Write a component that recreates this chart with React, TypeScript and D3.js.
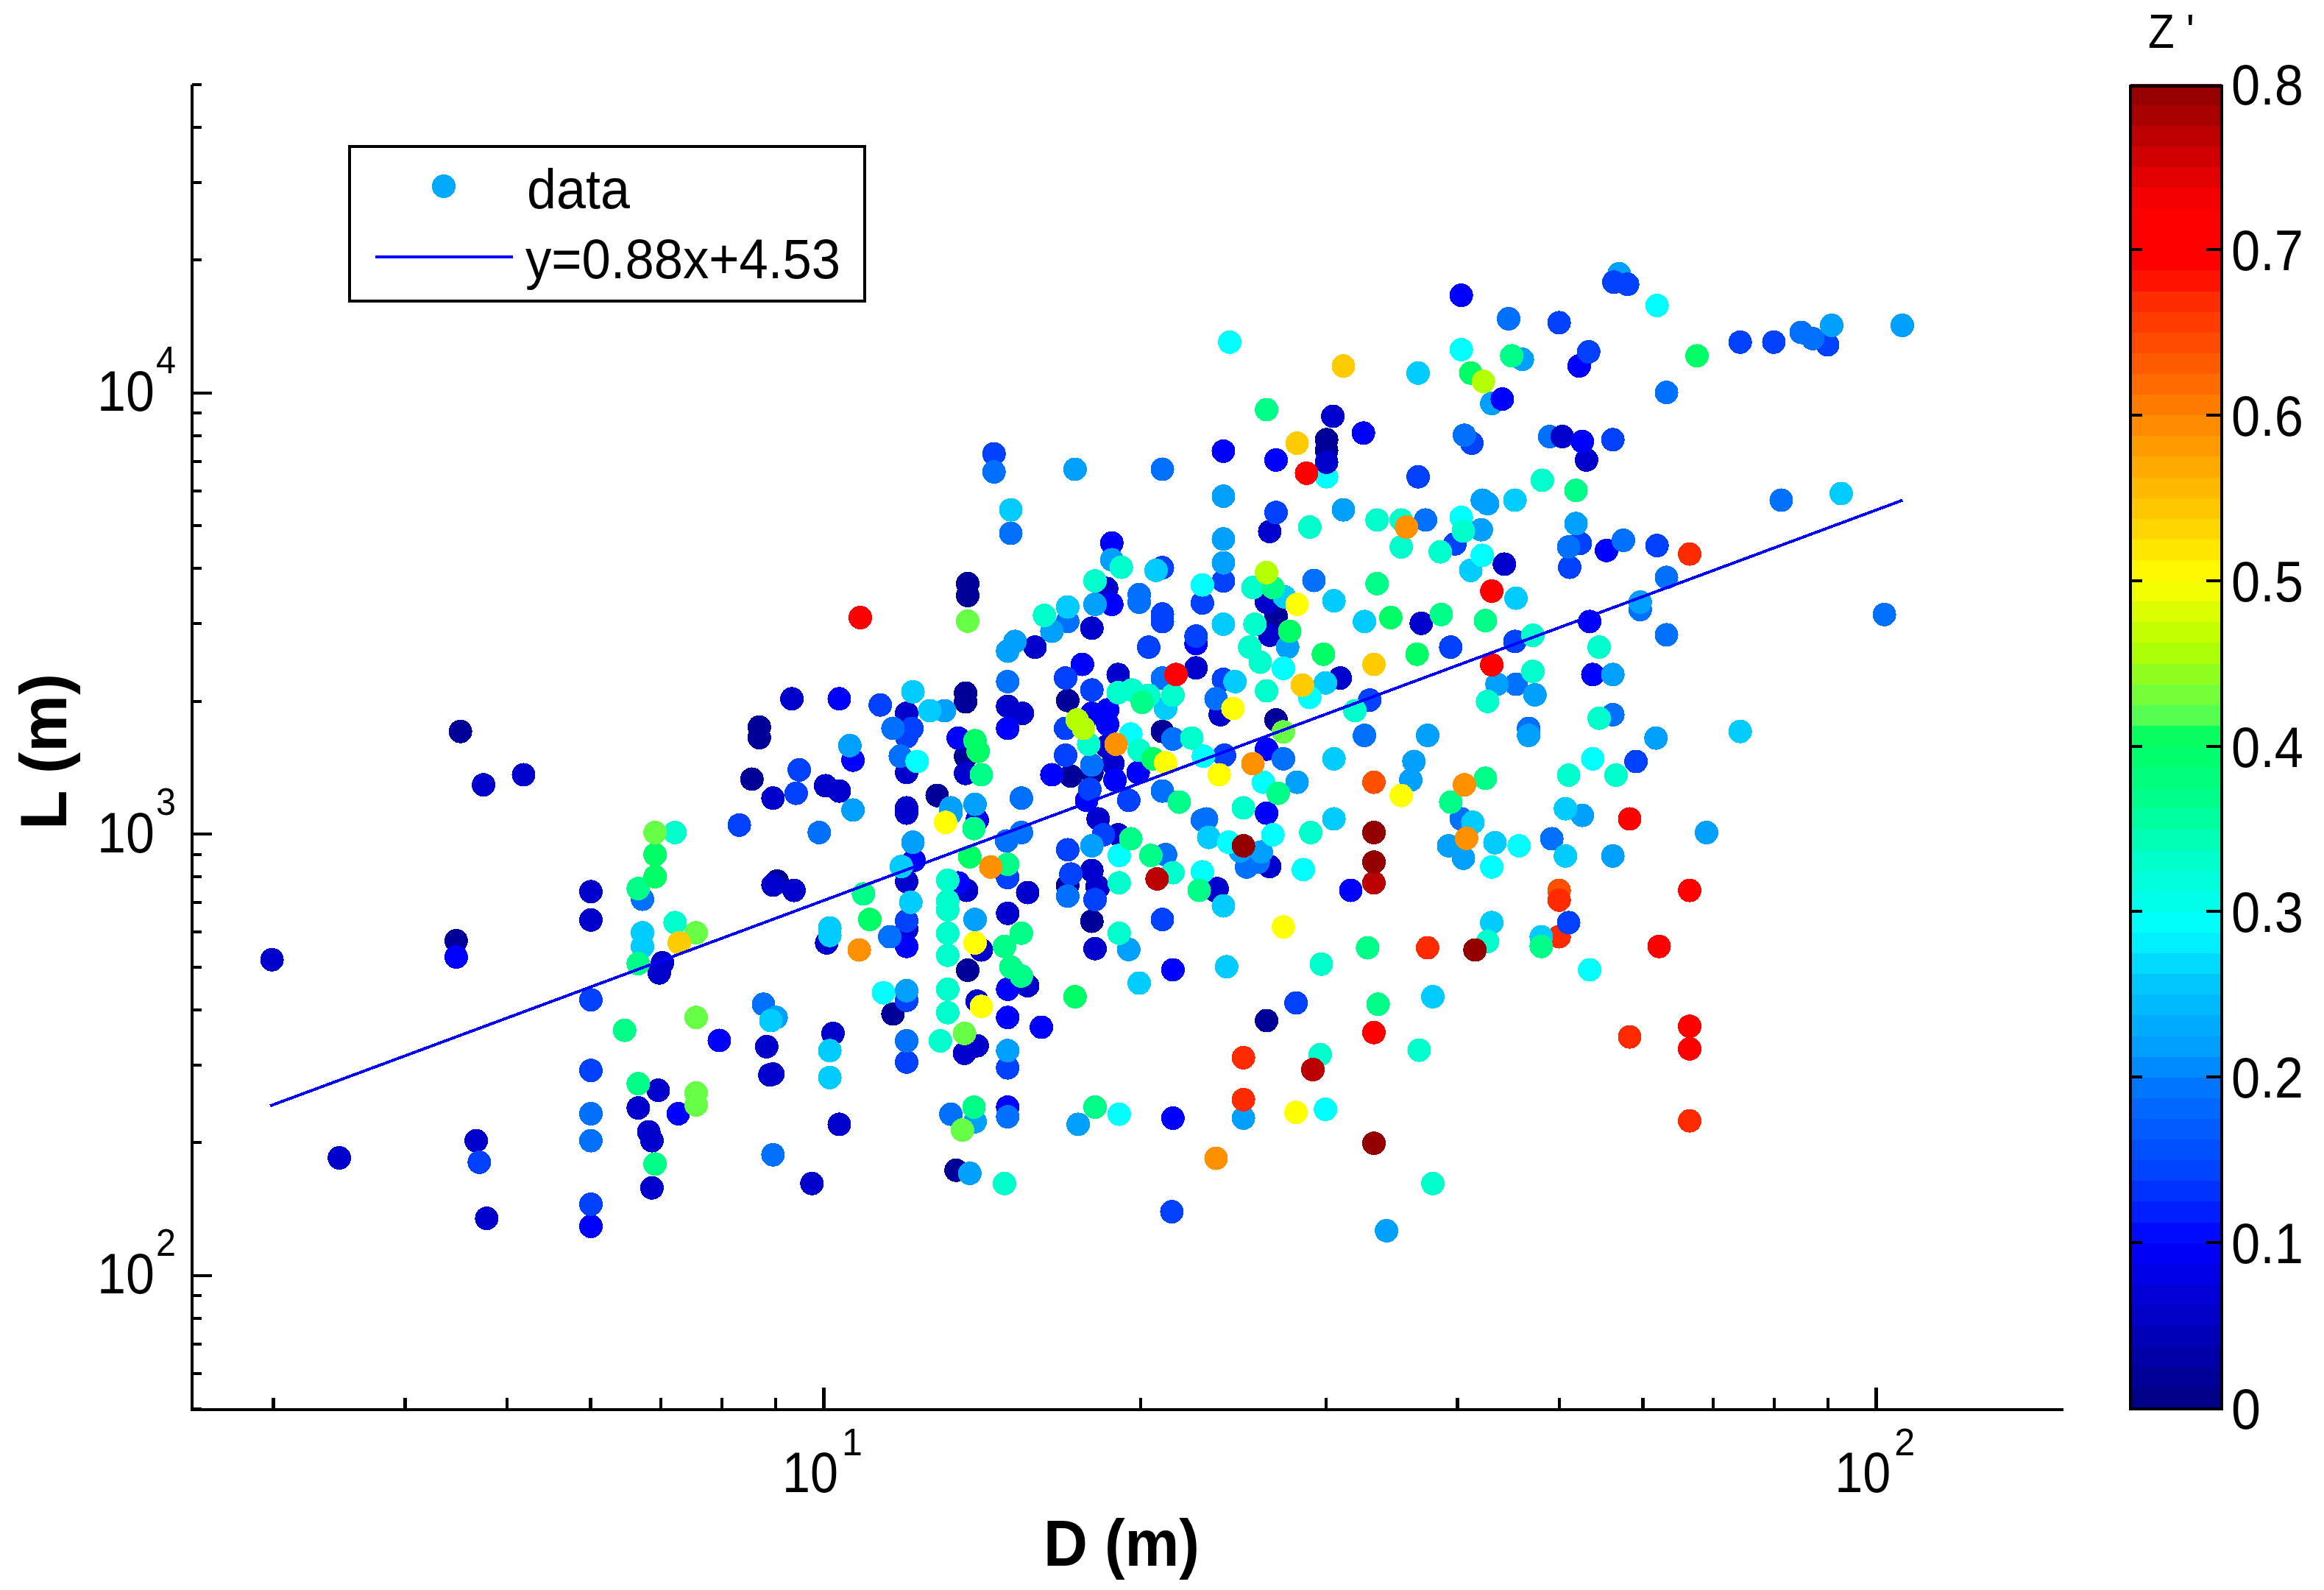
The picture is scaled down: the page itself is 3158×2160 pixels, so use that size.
import { useRef, useEffect } from "react";
import * as d3 from "d3";

// every point is [log10 D, log10 L], grouped by Z' value
const zNavy = [[.655,3.232],[.939,3.242],[.939,3.218],[.932,3.124],[.651,2.758],[1.137,3.567],[1.137,3.54],[1.135,3.319],[1.135,3.299],[1.232,3.302],[1.322,3.232],[1.108,3.087],[.956,2.893],[1.232,2.883],[1.255,2.802],[1.135,3.175],[1.235,3.131],[1.255,3.138],[1.43,3.258],[1.43,3.493],[1.478,3.893],[1.478,3.869],[1.137,2.691],[1.066,2.592],[1.26,2.881],[1.126,2.238],[1.421,2.577]];
const zDark = [[.677,3.111],[.715,3.134],[.476,2.715],[.779,2.869],[.779,2.805],[.847,2.708],[.844,2.685],[.946,2.518],[.843,2.419],[.824,2.379],[.834,2.325],[.837,2.305],[.837,2.198],[.949,2.454],[.67,2.305],[.54,2.266],[.68,2.129],[1.255,3.466],[1.269,3.556],[1.201,3.423],[1.28,3.361],[1.354,3.376],[.97,3.306],[1.175,3.289],[1.189,3.273],[1.079,3.273],[1.377,3.27],[1.269,3.198],[1.275,3.159],[1.079,3.139],[1.135,3.137],[1.002,3.109],[1.015,3.097],[.952,3.081],[1.079,3.059],[1.079,3.047],[1.261,3.034],[1.28,2.998],[1.255,2.917],[1.079,2.892],[.952,2.884],[.972,2.872],[1.136,2.872],[1.194,2.867],[1.261,2.878],[1.374,2.876],[1.175,2.82],[1.003,2.753],[1.079,2.784],[1.258,2.74],[1.15,2.737],[1.194,2.656],[1.146,2.621],[1.009,2.548],[1.134,2.503],[1.146,2.52],[.952,2.456],[1.015,2.342],[1.491,3.353],[1.424,3.45],[1.421,3.525],[1.568,3.477],[1.424,2.926],[1.372,2.872],[1.424,3.685],[1.484,3.946],[1.478,3.842],[1.725,3.847],[1.702,3.9],[1.647,3.611],[.989,2.208]];
const zBlue = [[.901,2.532],[.862,2.366],[.779,2.111],[.651,2.721],[1.38,3.867],[1.274,3.659],[1.274,3.52],[1.354,3.431],[1.246,3.384],[1.015,3.306],[1.27,3.281],[1.255,3.273],[1.27,3.248],[1.175,3.239],[1.128,3.217],[1.028,3.167],[1.217,3.134],[1.277,3.122],[1.299,3.139],[1.25,3.076],[1.146,3.031],[1.086,2.94],[1.128,2.889],[1.079,2.745],[1.332,2.692],[1.175,2.648],[1.175,2.584],[1.207,2.562],[1.175,2.381],[1.332,2.356],[1.421,3.192],[1.421,3.047],[1.501,2.872],[1.606,4.22],[1.718,4.06],[1.645,3.985],[1.513,3.908],[1.43,3.847],[1.721,3.889],[1.744,3.642],[1.728,3.481],[1.731,3.361]];
const zRoyal = [[.779,2.624],[.779,2.464],[.779,2.161],[.673,2.256],[.92,3.02],[1.162,3.861],[1.322,3.603],[1.38,3.573],[1.36,3.523],[1.322,3.498],[1.322,3.481],[1.354,3.448],[1.309,3.423],[1.23,3.353],[1.38,3.35],[1.054,3.292],[1.255,3.326],[1.084,3.239],[1.23,3.239],[1.23,3.178],[1.079,3.22],[1.381,3.178],[.977,3.145],[1.253,3.101],[.974,3.092],[1.29,3.076],[1.266,2.998],[1.232,2.964],[1.235,2.909],[1.175,2.901],[1.258,2.851],[1.079,2.803],[1.322,2.806],[1.079,2.623],[1.079,2.483],[1.175,2.47],[1.519,3.303],[1.596,3.423],[1.657,3.436],[1.751,4.25],[1.764,4.245],[1.699,4.158],[1.954,4.108],[1.903,4.114],[1.871,4.114],[1.727,4.092],[1.75,3.893],[1.616,3.885],[1.565,3.809],[1.43,3.728],[1.719,3.658],[1.792,3.653],[1.6,3.657],[1.709,3.604],[1.772,3.164],[1.708,2.799],[1.331,2.144],[1.449,2.617]];
const zAzure = [[.779,2.366],[.779,2.305],[.952,2.273],[.943,2.614],[.828,2.852],[1.162,3.82],[1.322,3.826],[1.178,3.681],[1.3,3.542],[1.3,3.525],[1.232,3.481],[1.322,3.353],[1.175,3.345],[1.373,3.306],[1.332,3.215],[1.066,3.239],[1.073,3.176],[1.255,3.156],[1.188,3.081],[1.322,3.097],[.996,3.003],[1.188,3.003],[1.174,2.984],[1.36,3.031],[1.325,2.953],[1.413,2.936],[1.232,2.859],[1.063,2.767],[1.079,2.531],[1.121,2.365],[1.175,2.359],[1.437,3.17],[1.364,3.034],[1.606,3.034],[1.402,2.925],[1.514,3.223],[1.67,3.239],[1.658,3.339],[1.651,4.167],[1.929,4.136],[1.94,4.122],[1.801,4],[1.609,3.903],[1.572,3.711],[1.91,3.756],[1.76,3.665],[1.708,3.65],[1.466,3.574],[1.801,3.581],[1.776,3.508],[2.008,3.497],[1.801,3.451],[1.75,3.27],[1.692,2.989]];
const zSky = [[1.38,3.765],[1.274,3.621],[1.38,3.668],[1.38,3.614],[1.258,3.52],[1.217,3.459],[1.182,3.436],[1.175,3.414],[1.115,3.279],[1.025,3.2],[1.121,3.059],[1.144,3.067],[1.028,3.054],[1.121,3.047],[1.085,2.981],[1.255,2.973],[1.144,2.806],[1.29,2.738],[1.079,2.645],[.955,2.584],[1.175,2.509],[1.144,2.348],[1.242,2.342],[1.399,2.356],[1.139,2.231],[1.441,3.423],[1.64,3.339],[1.676,3.315],[1.574,3.223],[1.67,3.223],[1.561,3.164],[1.558,3.122],[1.45,3.117],[1.396,2.961],[1.416,2.959],[1.594,2.973],[1.608,2.945],[1.721,3.042],[1.776,3.525],[1.75,3.361],[1.791,3.217],[1.839,3.003],[1.75,2.95],[2.025,4.152],[1.958,4.152],[1.626,3.756],[1.631,3.748],[1.494,3.734],[1.715,3.703],[1.625,3.689],[1.535,2.101]];
const zCapri = [[1.178,3.734],[1.316,3.597],[1.232,3.514],[1.38,3.475],[1.085,3.322],[1.391,3.345],[1.101,3.279],[1.325,3.284],[1.366,2.992],[1.074,2.926],[1.083,2.845],[1.38,2.837],[1.006,2.787],[1.006,2.77],[1.383,2.699],[1.3,2.662],[1.006,2.509],[1.006,2.448],[.828,2.776],[.828,2.745],[.95,2.577],[1.485,3.528],[1.658,3.534],[1.514,3.481],[1.477,3.342],[1.485,3.17],[1.485,3.034],[1.438,3.537],[1.565,4.044],[1.615,3.597],[1.657,3.756],[1.967,3.771],[1.871,3.232],[1.705,3.057],[1.617,3.026],[1.638,2.98],[1.705,2.95],[1.635,2.799],[1.682,2.767],[1.579,2.631]];
const zCyan = [[1.36,3.564],[1.292,3.226],[1.361,3.176],[1.089,3.164],[1.385,2.981],[1.281,2.951],[1.36,2.914],[1.057,2.64],[1.281,2.365],[1.386,4.114],[1.606,4.097],[1.792,4.197],[1.437,3.375],[1.462,3.309],[1.418,3.117],[1.606,3.717],[1.626,3.631],[1.427,2.998],[1.456,2.919],[1.661,2.973],[1.635,2.925],[1.731,3.17],[1.728,2.692],[1.477,2.376]];
const zTeal = [[.859,3.003],[.859,2.799],[1.283,3.604],[1.258,3.573],[1.21,3.495],[1.28,3.32],[1.293,3.326],[1.309,3.314],[1.332,3.314],[1.35,3.217],[1.252,3.203],[1.3,3.189],[1.399,3.059],[1.118,2.895],[1.118,2.848],[1.118,2.828],[1.332,2.912],[1.281,2.889],[1.118,2.775],[1.281,2.775],[1.118,2.725],[1.118,2.648],[1.118,2.595],[1.111,2.531],[1.41,3.475],[1.405,3.423],[1.415,3.389],[1.421,3.324],[1.463,3.003],[1.505,3.279],[1.674,3.45],[1.674,3.368],[1.631,3.3],[1.737,3.423],[1.737,3.262],[1.708,3.133],[1.753,3.133],[1.631,2.756],[1.683,3.801],[1.462,3.695],[1.526,3.711],[1.549,3.711],[1.608,3.686],[1.549,3.65],[1.586,3.639],[1.408,3.558],[1.472,2.5],[1.566,2.51],[1.579,2.208],[1.473,2.705],[1.172,2.208]];
const zMint = [[.824,2.876],[.824,2.706],[.811,2.555],[.824,2.434],[.84,2.252],[1.303,3.298],[1.338,3.072],[1.143,3.012],[1.292,2.989],[1.175,2.931],[1.311,2.951],[1.038,2.864],[1.188,2.775],[1.172,2.745],[1.178,2.698],[1.188,2.678],[1.258,2.381],[1.143,2.381],[1.357,2.872],[1.15,3.134],[1.587,3.497],[1.629,3.483],[1.421,3.961],[1.654,4.083],[1.715,3.778],[1.526,3.567],[1.427,3.558],[1.432,3.092],[1.596,3.072],[1.629,3.126],[1.517,2.742],[1.682,2.745],[1.527,2.614]];
const zGreen = [[.84,2.953],[.84,2.903],[1.144,3.211],[1.147,3.187],[1.313,3.17],[1.139,2.948],[1.044,2.806],[1.239,2.631],[1.443,3.459],[1.475,3.407],[1.564,3.407],[1.615,4.044],[1.83,4.083],[1.539,3.49]];
const zLime = [[.84,3.003],[.879,2.776],[.879,2.584],[.879,2.413],[.879,2.386],[1.137,3.482],[1.134,2.548],[1.132,2.329],[1.437,3.231]];
const zChartreuse = [[1.241,3.258],[1.247,3.239],[1.421,3.592],[1.627,4.025]];
const zYellow = [[1.389,3.284],[1.325,3.161],[1.376,3.134],[1.116,3.026],[1.144,2.753],[1.15,2.609],[1.45,3.52],[1.549,3.087],[1.437,2.789],[1.449,2.369]];
const zGold = [[.863,2.753],[1.45,3.885],[1.494,4.06],[1.523,3.384],[1.455,3.337]];
const zOrange = [[1.278,3.203],[1.408,3.159],[1.159,2.925],[1.034,2.737],[1.554,3.695],[1.609,3.111],[1.611,2.99],[1.373,2.265]];
const zDeepOrange = [[1.523,3.117],[1.699,2.872]];
const zVermilion = [[1.823,3.634],[1.699,2.85],[1.574,2.742],[1.399,2.493],[1.399,2.398],[1.766,2.54],[1.823,2.35]];
const zRed = [[1.035,3.49],[1.335,3.361],[1.459,3.817],[1.635,3.55],[1.635,3.383],[1.766,3.034],[1.823,2.872],[1.794,2.745],[1.823,2.564],[1.823,2.513],[1.523,2.55]];
const zCrimson = [[1.317,2.898],[1.523,2.889],[1.465,2.466]];
const zMaroon = [[1.399,2.973],[1.523,3.003],[1.523,2.936],[1.619,2.737],[1.523,2.299]];

// these sit underneath their neighbours in the picture, so they go down first
const zVermilionBehind = [[1.699,2.767]];
const zCyanBehind = [[1.478,3.809]];
const zSkyBehind = [[1.756,4.269],[1.239,3.826],[1.635,3.975],[1.664,4.075]];
const zAzureBehind = [[1.69,3.9]];

const groups: [number, number[][]][] = [
  [0.67, zVermilionBehind], [0.29, zCyanBehind], [0.22, zSkyBehind], [0.19, zAzureBehind],
  [0.02, zNavy], [0.06, zDark], [0.1, zBlue], [0.14, zRoyal], [0.19, zAzure], [0.22, zSky],
  [0.26, zCapri], [0.29, zCyan], [0.33, zTeal], [0.37, zMint], [0.4, zGreen], [0.425, zLime],
  [0.46, zChartreuse], [0.5, zYellow], [0.54, zGold], [0.59, zOrange], [0.64, zDeepOrange],
  [0.67, zVermilion], [0.7, zRed], [0.77, zCrimson], [0.795, zMaroon],
];

// fit line ends, y=0.88x+4.53 in natural logs
const fitD = [2.98, 106];
const fitL = [242, 5700];

const xMajor = [10, 100];
const xMinor = [3, 4, 5, 6, 7, 8, 9, 20, 30, 40, 50, 60, 70, 80, 90];
const yMajor = [100, 1000, 10000];
const yMinor = [50, 60, 70, 80, 90, 200, 300, 400, 500, 600, 700, 800, 900, 2000, 3000, 4000, 5000, 6000, 7000, 8000, 9000, 20000, 30000, 40000, 50000];
const barTicks = [0, 0.1, 0.2, 0.3, 0.4, 0.5, 0.6, 0.7, 0.8];

const colorDomain = [0, .1, .14, .19, .22, .26, .29, .33, .37, .405, .42, .46, .5, .54, .59, .64, .67, .69, .725, .8];
const colorRange = ["#000080", "#0000ff", "#0040ff", "#0070ff", "#00a0ff", "#00ccff", "#00ffff", "#00ffcc", "#00ff88", "#00ff60", "#5cff50", "#b4ff00", "#ffff00", "#ffcc00", "#ff9000", "#ff5000", "#ff2a00", "#ff0000", "#ff0000", "#8c0000"];

const FONT = "'Liberation Sans', Arial, sans-serif";

export default function App() {
  const svgRef = useRef<SVGSVGElement>(null);

  useEffect(() => {
    const svg = d3.select(svgRef.current);
    svg.selectAll("*").remove();
    svg.attr("font-family", FONT);

    const x = d3.scaleLog().domain([2.5, 150]).range([258, 2801]);
    const y = d3.scaleLog().domain([50, 50000]).range([1913, 114]);
    const color = d3.scaleLinear<string>().domain(colorDomain).range(colorRange).clamp(true);

    const label = (
      g: any, text: string, px: number, py: number, size: number, len: number,
      weight = "normal"
    ) =>
      g.append("text")
        .attr("x", px).attr("y", py)
        .attr("font-size", size).attr("font-weight", weight)
        .attr("textLength", len).attr("lengthAdjust", "spacingAndGlyphs")
        .attr("fill", "#000")
        .text(text);

    // Points
    const dots = svg.append("g").attr("shape-rendering", "crispEdges");
    groups.forEach(([z, pts]) => {
      dots.selectAll(null)
        .data(pts)
        .enter()
        .append("circle")
        .attr("cx", d => x(10 ** d[0]))
        .attr("cy", d => y(10 ** d[1]))
        .attr("r", 16)
        .attr("fill", color(z));
    });

    // Fit line
    const line = d3.line<number>()
      .x(d => x(d))
      .y((d, i) => y(fitL[i]));
    svg.append("path")
      .datum(fitD)
      .attr("d", line)
      .attr("fill", "none")
      .attr("stroke", "#0000ff")
      .attr("stroke-width", 4)
      .attr("shape-rendering", "crispEdges");

    // Axes
    const axes = svg.append("g").attr("shape-rendering", "crispEdges");
    const drawTicksX = (vals: number[], len: number) =>
      axes.append("g")
        .attr("transform", "translate(0,1915)")
        .call(d3.axisBottom(x).tickValues(vals).tickSizeInner(-len).tickSizeOuter(0).tickFormat(() => ""))
        .call(g => g.select(".domain").remove())
        .call(g => g.selectAll("line").attr("stroke", "#000").attr("stroke-width", 4.5));
    const drawTicksY = (vals: number[], len: number) =>
      axes.append("g")
        .attr("transform", "translate(261,0)")
        .call(d3.axisLeft(y).tickValues(vals).tickSizeInner(-len).tickSizeOuter(0).tickFormat(() => ""))
        .call(g => g.select(".domain").remove())
        .call(g => g.selectAll("line").attr("stroke", "#000").attr("stroke-width", 4));
    drawTicksX(xMinor, 16);
    drawTicksX(xMajor, 30);
    drawTicksY(yMinor, 13);
    drawTicksY(yMajor, 27);
    axes.append("line").attr("x1", 259).attr("x2", 2804).attr("y1", 1915).attr("y2", 1915)
      .attr("stroke", "#000").attr("stroke-width", 4);
    axes.append("line").attr("x1", 261).attr("x2", 261).attr("y1", 115).attr("y2", 1917)
      .attr("stroke", "#000").attr("stroke-width", 4.5);

    // Tick labels
    xMajor.forEach(v => {
      label(svg, "10", x(v) - 56, 2027, 77, 76);
      label(svg, String(Math.log10(v)), x(v) + 25, 1977, 51, 28);
    });
    yMajor.forEach(v => {
      label(svg, "10", 132, y(v) + 25, 77, 78);
      label(svg, String(Math.log10(v)), 212, y(v) - 26, 51, 27);
    });

    // Axis titles
    label(svg, "D (m)", 1418, 2127, 89, 212, "bold");
    const yTitle = svg.append("g").attr("transform", "translate(90,1127) rotate(-90)");
    label(yTitle, "L (m)", 0, 0, 89, 212, "bold");

    // Legend
    const legend = svg.append("g");
    legend.append("rect").attr("x", 475).attr("y", 199).attr("width", 700).attr("height", 210)
      .attr("fill", "#fff").attr("stroke", "#000").attr("stroke-width", 4).attr("shape-rendering", "crispEdges");
    legend.append("circle").attr("cx", 603).attr("cy", 253).attr("r", 16)
      .attr("fill", "#00aaff").attr("shape-rendering", "crispEdges");
    legend.append("line").attr("x1", 510).attr("x2", 697).attr("y1", 349).attr("y2", 349)
      .attr("stroke", "#0000ff").attr("stroke-width", 4.5).attr("shape-rendering", "crispEdges");
    label(legend, "data", 716, 283, 76, 140);
    label(legend, "y=0.88x+4.53", 714, 378, 76, 428);

    // Colorbar
    const barY = d3.scaleLinear().domain([0, 0.8]).range([1913, 114]);
    const nBands = 64;
    const bar = svg.append("g").attr("shape-rendering", "crispEdges");
    bar.selectAll("rect")
      .data(d3.range(nBands))
      .enter()
      .append("rect")
      .attr("x", 2895)
      .attr("width", 124)
      .attr("y", i => barY((i + 1) * 0.8 / nBands))
      .attr("height", i => barY(i * 0.8 / nBands) - barY((i + 1) * 0.8 / nBands) + 0.5)
      .attr("fill", i => color((i + 0.5) * 0.8 / nBands));
    barTicks.slice(1, -1).forEach(v => {
      bar.append("line").attr("x1", 2897).attr("x2", 2911).attr("y1", barY(v)).attr("y2", barY(v))
        .attr("stroke", "#000").attr("stroke-width", 4);
      bar.append("line").attr("x1", 2998).attr("x2", 3017).attr("y1", barY(v)).attr("y2", barY(v))
        .attr("stroke", "#000").attr("stroke-width", 4);
    });
    bar.append("rect").attr("x", 2895).attr("y", 117).attr("width", 124).attr("height", 1797)
      .attr("fill", "none").attr("stroke", "#000").attr("stroke-width", 4.5);
    barTicks.forEach(v => {
      if (v === 0) label(svg, "0", 3032, barY(v) + 28, 77, 40);
      else label(svg, String(v), 3032, barY(v) + 28, 77, 98);
    });
    label(svg, "Z '", 2919, 65, 64, 63);
  }, []);

  return (
    <svg
      ref={svgRef}
      width={3158}
      height={2160}
      style={{ position: "absolute", left: 0, top: 0, display: "block", background: "#fff" }}
    />
  );
}
